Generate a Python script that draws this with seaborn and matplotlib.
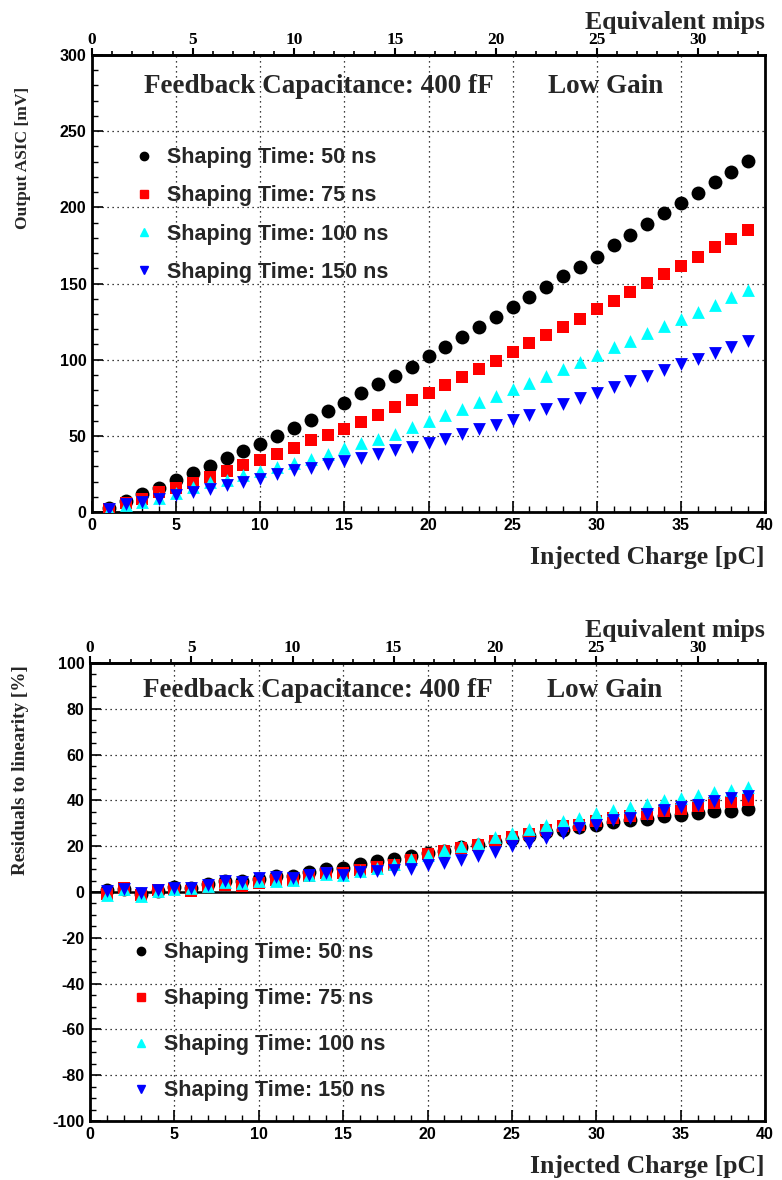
import pandas as pd
import matplotlib.pyplot as plt
import seaborn as sns
from matplotlib.lines import Line2D
from matplotlib.ticker import MultipleLocator, FixedLocator

charge = [1, 2, 3, 4, 5, 6, 7, 8, 9, 10, 11, 12, 13, 14, 15, 16, 17, 18, 19, 20,
          21, 22, 23, 24, 25, 26, 27, 28, 29, 30, 31, 32, 33, 34, 35, 36, 37, 38, 39]

# output ASIC [mV]
out_50 = [2.5, 7.0, 11.6, 16.0, 20.8, 25.7, 30.3, 35.3, 39.9, 44.9, 50.2, 55.3, 60.7, 66.4,
          71.7, 77.9, 84.0, 89.3, 95.4, 102.4, 108.1, 114.7, 121.3, 128.1, 134.9, 141.2,
          148.0, 154.8, 160.9, 167.5, 175.0, 181.6, 188.8, 196.1, 202.6, 209.6, 216.9, 223.5, 230.5]
out_75 = [2.2, 5.9, 8.6, 12.9, 15.8, 19.3, 23.0, 27.0, 30.7, 34.4, 38.4, 42.1, 47.1, 50.4,
          54.8, 59.2, 64.0, 68.6, 73.5, 78.3, 83.1, 88.4, 93.6, 99.3, 105.0, 110.7, 116.0,
          121.7, 127.0, 133.1, 138.8, 144.3, 150.2, 156.1, 161.6, 167.5, 173.7, 179.4, 185.3]
out_100 = [1.1, 4.4, 6.6, 9.4, 12.5, 16.4, 19.7, 21.3, 24.1, 27.0, 29.6, 32.2, 35.1, 38.4,
           41.7, 45.0, 48.2, 51.5, 55.9, 59.9, 63.4, 67.8, 71.9, 76.3, 80.9, 84.9, 89.3,
           94.1, 98.5, 103.3, 108.6, 112.3, 117.3, 121.9, 127.0, 131.6, 136.0, 141.0, 145.8]
out_150 = [2.2, 5.0, 6.6, 8.8, 11.0, 13.2, 15.4, 17.5, 19.7, 21.9, 25.2, 27.4, 29.2, 31.4,
           33.6, 35.7, 38.4, 40.6, 42.8, 45.6, 48.2, 51.1, 54.2, 57.2, 60.7, 64.0, 67.3,
           70.8, 74.6, 78.3, 82.2, 85.7, 89.5, 93.2, 97.1, 100.7, 104.6, 108.1, 112.1]

# residuals to linearity [%]
res_50 = [1.0, 1.2, -1.0, 0.6, 2.2, 1.9, 3.3, 4.7, 4.7, 5.8, 7.1, 7.1, 8.6, 10.2, 10.6, 12.2,
          13.7, 14.6, 15.9, 17.0, 18.0, 19.5, 20.5, 22.0, 23.0, 24.5, 26.0, 27.0, 28.4, 29.4,
          30.6, 31.3, 32.0, 33.3, 33.8, 34.5, 35.2, 35.5, 36.2]
res_75 = [-0.7, 1.7, -1.3, 0.8, 1.3, 0.3, 2.2, 3.2, 2.5, 3.9, 5.4, 5.2, 7.0, 8.2, 8.3, 9.5,
          10.9, 11.6, 14.1, 16.6, 17.8, 19.2, 20.7, 22.1, 23.9, 25.5, 27.2, 28.7, 29.4, 31.2,
          32.3, 33.0, 34.2, 35.4, 36.4, 37.4, 38.9, 39.3, 40.0]
res_100 = [-1.2, 1.5, -1.9, 0.3, 1.5, 1.7, 2.5, 4.5, 3.9, 4.9, 5.0, 5.4, 7.5, 8.0, 7.6, 9.0,
           10.5, 12.4, 14.6, 16.3, 18.2, 20.0, 21.4, 24.0, 25.8, 27.5, 29.4, 31.1, 32.3, 34.3,
           36.0, 37.1, 38.6, 40.0, 41.0, 42.5, 43.7, 44.7, 45.9]
res_150 = [0.5, 1.5, -0.5, 0.8, 1.7, 1.7, 3.2, 4.7, 4.2, 6.1, 6.5, 6.0, 7.5, 8.3, 7.6, 8.7,
           9.3, 9.8, 10.2, 11.9, 12.7, 14.1, 15.6, 17.3, 19.9, 21.4, 23.6, 25.8, 28.0, 29.2,
           31.3, 32.3, 34.2, 36.0, 37.0, 38.1, 39.6, 41.0, 42.1]

labels = ["Shaping Time: 50 ns", "Shaping Time: 75 ns",
          "Shaping Time: 100 ns", "Shaping Time: 150 ns"]
colors = ["#000000", "#ff0000", "#00ffff", "#0000ff"]
markers = ["o", "s", "^", "v"]
sizes = [100, 80, 85, 85]

mips_ticks = [0, 5, 10, 15, 20, 25, 30]
mips_minor = [1, 2, 3, 4, 6, 7, 8, 9, 11, 12, 13, 14, 16, 17, 18, 19,
              21, 22, 23, 24, 26, 27, 28, 29, 31, 32, 33]
PC_PER_MIP = 1.2

sns.set_theme(style="white")
plt.rcParams["font.family"] = ["Liberation Sans", "DejaVu Sans"]
plt.rcParams["font.weight"] = "bold"
plt.rcParams["axes.labelweight"] = "bold"
plt.rcParams["axes.unicode_minus"] = False
SERIF = "Liberation Serif"

fig = plt.figure(figsize=(7.82, 11.8), dpi=100)
ax1 = fig.add_axes([92 / 782, 1 - 512 / 1180, 673 / 782, 457 / 1180])
ax2 = fig.add_axes([90 / 782, 1 - 1121 / 1180, 675 / 782, 458 / 1180])


def style_panel(ax, ylim, ymajor, yminor, ylabel, ylab_size, ylab_y, top_text_y,
                legend_anchor, legend_space):
    ax.set_xlim(0, 40)
    ax.set_ylim(*ylim)
    ax.xaxis.set_major_locator(MultipleLocator(5))
    ax.xaxis.set_minor_locator(MultipleLocator(1))
    ax.yaxis.set_major_locator(MultipleLocator(ymajor))
    ax.yaxis.set_minor_locator(MultipleLocator(yminor))
    ax.grid(True, which="major", color="black", linestyle=(0, (1, 3)), linewidth=0.9)
    ax.tick_params(which="both", direction="in", top=False, right=False,
                   left=True, bottom=True, colors="black")
    ax.tick_params(which="major", length=8, width=1.2, labelsize=11.5, pad=4)
    ax.tick_params(which="minor", length=4, width=1)
    for sp in ax.spines.values():
        sp.set_color("black")
        sp.set_linewidth(2)
    ax.set_xlabel("Injected Charge [pC]", loc="right", family=SERIF, fontsize=18.5,
                  labelpad=10)
    ax.set_ylabel(ylabel, family=SERIF, fontsize=ylab_size, ha="right")
    ax.yaxis.set_label_coords(-0.09, ylab_y)

    sec = ax.secondary_xaxis("top", functions=(lambda q: q / PC_PER_MIP, lambda m: m * PC_PER_MIP))
    sec.xaxis.set_major_locator(FixedLocator(mips_ticks))
    sec.xaxis.set_minor_locator(FixedLocator(mips_minor))
    sec.tick_params(which="both", direction="out", colors="black")
    sec.tick_params(which="major", length=5, width=1.5, pad=0, labelsize=12.5,
                    labelfontfamily=SERIF)
    sec.tick_params(which="minor", length=3, width=1.2)
    sec.spines["top"].set_linewidth(2)
    sec.set_xlabel("Equivalent mips", loc="right", family=SERIF, fontsize=18.5, labelpad=2)

    ax.text(0.078, top_text_y, "Feedback Capacitance: 400 fF", transform=ax.transAxes,
            family=SERIF, fontsize=19.5, va="center", ha="left")
    ax.text(0.677, top_text_y, "Low Gain", transform=ax.transAxes,
            family=SERIF, fontsize=19.5, va="center", ha="left")

    handles = [Line2D([], [], marker=m, color=c, linestyle="none", markersize=6)
               for m, c in zip(markers, colors)]
    ax.legend(handles, labels, loc="upper left", bbox_to_anchor=legend_anchor,
              frameon=False, handlelength=1.0, handletextpad=0.55,
              labelspacing=legend_space, borderpad=0,
              prop={"family": "Liberation Sans", "weight": "bold", "size": 15.5})


top_df = pd.DataFrame({"charge": charge * 4,
                       "value": out_50 + out_75 + out_100 + out_150,
                       "series": [l for l in labels for _ in charge]})
res_df = pd.DataFrame({"charge": charge * 4,
                       "value": res_50 + res_75 + res_100 + res_150,
                       "series": [l for l in labels for _ in charge]})

for ax, df in [(ax1, top_df), (ax2, res_df)]:
    for lab, c, m, s in zip(labels, colors, markers, sizes):
        sub = df[df["series"] == lab]
        sns.scatterplot(data=sub, x="charge", y="value", ax=ax, color=c, marker=m,
                        s=s, linewidth=0, legend=False, zorder=3)

ax2.axhline(0, color="black", linewidth=1.8, zorder=2)

style_panel(ax1, (0, 300), 50, 10, "Output ASIC [mV]", 12.5, 0.93, 0.932,
            (0.046, 0.822), 0.8)
style_panel(ax2, (-100, 100), 20, 5, "Residuals to linearity [%]", 13.8, 0.995, 0.941,
            (0.044, 0.414), 1.16)

fig.savefig("out.png", dpi=100)
